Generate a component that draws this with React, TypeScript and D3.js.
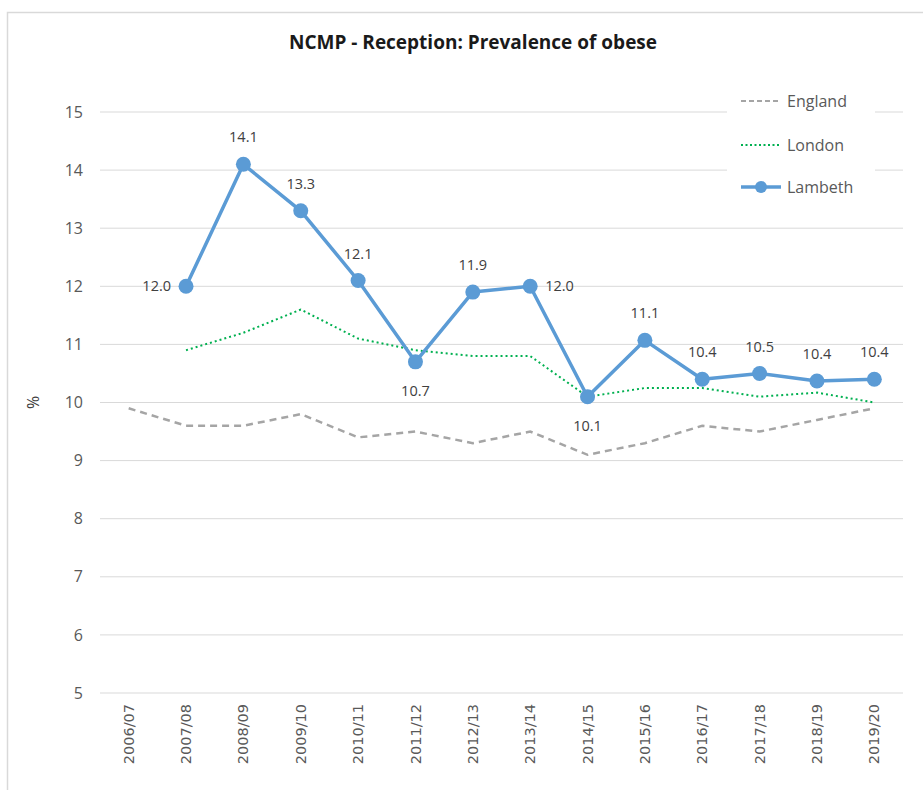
import { useEffect, useRef } from 'react';
import * as d3 from 'd3';

const years = ['2006/07', '2007/08', '2008/09', '2009/10', '2010/11', '2011/12', '2012/13', '2013/14', '2014/15', '2015/16', '2016/17', '2017/18', '2018/19', '2019/20'];
const england = [9.9, 9.6, 9.6, 9.8, 9.4, 9.5, 9.3, 9.5, 9.1, 9.3, 9.6, 9.5, 9.7, 9.9];
const london = [null, 10.9, 11.2, 11.6, 11.1, 10.9, 10.8, 10.8, 10.1, 10.25, 10.25, 10.1, 10.17, 10.0];
const lambeth = [null, 12.0, 14.1, 13.3, 12.1, 10.7, 11.9, 12.0, 10.1, 11.07, 10.4, 10.5, 10.37, 10.4];
// where each Lambeth label sits relative to its point
const labelPos = [null, 'left', 'top', 'top', 'top', 'bottom', 'top', 'right', 'bottom', 'top', 'top', 'top', 'top', 'top'];
const yTicks = [5, 6, 7, 8, 9, 10, 11, 12, 13, 14, 15];

const W = 923;
const H = 790;
const FONT = '"Open Sans", Calibri, sans-serif';

export default function App() {
  const svgRef = useRef<SVGSVGElement>(null);

  useEffect(() => {
    const svg = d3.select(svgRef.current);
    svg.selectAll('*').remove();

    const x = d3.scaleBand().domain(years).range([100, 903]);
    const cx = (d: string) => (x(d) as number) + x.bandwidth() / 2;
    const y = d3.scaleLinear().domain([5, 15]).range([693, 112]);

    svg.append('rect').attr('width', W).attr('height', H).attr('fill', 'white');
    // chart frame (cropped at right and bottom)
    svg.append('rect')
      .attr('x', 7.5).attr('y', 12.5)
      .attr('width', W + 20).attr('height', H + 20)
      .attr('fill', 'none').attr('stroke', '#d9d9d9').attr('stroke-width', 1.5);

    svg.append('text')
      .attr('x', 473).attr('y', 49)
      .attr('text-anchor', 'middle')
      .style('font-family', FONT).style('font-size', '19px').style('font-weight', 'bold')
      .style('fill', '#1a1a1a')
      .text('NCMP - Reception: Prevalence of obese');

    // gridlines
    svg.append('g').selectAll('line').data(yTicks).enter().append('line')
      .attr('x1', 100).attr('x2', 903)
      .attr('y1', d => y(d)).attr('y2', d => y(d))
      .attr('stroke', '#d9d9d9').attr('stroke-width', 1);

    // y tick labels
    svg.append('g').selectAll('text').data(yTicks).enter().append('text')
      .attr('x', 83).attr('y', d => y(d)).attr('dy', '0.35em')
      .attr('text-anchor', 'end')
      .style('font-family', FONT).style('font-size', '16px').style('fill', '#595959')
      .text(d => d);

    svg.append('text')
      .attr('transform', `translate(33, ${y(10)}) rotate(-90)`)
      .attr('text-anchor', 'middle').attr('dy', '0.35em')
      .style('font-family', FONT).style('font-size', '16px').style('fill', '#404040')
      .text('%');

    // x tick labels
    svg.append('g').selectAll('text').data(years).enter().append('text')
      .attr('transform', d => `translate(${cx(d)}, 704) rotate(-90)`)
      .attr('text-anchor', 'end').attr('dy', '0.35em')
      .style('font-family', '"DejaVu Sans", Verdana, sans-serif').style('font-size', '14.5px')
      .style('fill', '#595959')
      .text(d => d);

    const line = d3.line<number | null>()
      .defined(d => d != null)
      .x((d, i) => cx(years[i]))
      .y(d => y(d as number));

    svg.append('path').datum(england)
      .attr('d', line as any)
      .attr('fill', 'none').attr('stroke', '#a5a5a5').attr('stroke-width', 2.5)
      .attr('stroke-dasharray', '7,5');

    svg.append('path').datum(london)
      .attr('d', line as any)
      .attr('fill', 'none').attr('stroke', '#00b050').attr('stroke-width', 2)
      .attr('stroke-dasharray', '2,3');

    svg.append('path').datum(lambeth)
      .attr('d', line as any)
      .attr('fill', 'none').attr('stroke', '#5b9bd5').attr('stroke-width', 3.5)
      .attr('stroke-linejoin', 'round');

    const pts = lambeth.map((v, i) => ({ v, i })).filter(d => d.v != null) as { v: number; i: number }[];

    svg.append('g').selectAll('circle').data(pts).enter().append('circle')
      .attr('cx', d => cx(years[d.i])).attr('cy', d => y(d.v))
      .attr('r', 7.5).attr('fill', '#5b9bd5');

    svg.append('g').selectAll('text').data(pts).enter().append('text')
      .attr('x', d => {
        const p = labelPos[d.i];
        if (p === 'left') return cx(years[d.i]) - 15;
        if (p === 'right') return cx(years[d.i]) + 15;
        return cx(years[d.i]);
      })
      .attr('y', d => {
        const p = labelPos[d.i];
        if (p === 'top') return y(d.v) - 27;
        if (p === 'bottom') return y(d.v) + 29;
        return y(d.v);
      })
      .attr('dy', '0.35em')
      .attr('text-anchor', d => labelPos[d.i] === 'left' ? 'end' : labelPos[d.i] === 'right' ? 'start' : 'middle')
      .style('font-family', FONT).style('font-size', '14.5px').style('fill', '#404040')
      .text(d => d.v.toFixed(1));

    // legend
    const legend = svg.append('g');
    legend.append('rect')
      .attr('x', 727).attr('y', 86).attr('width', 148).attr('height', 116)
      .attr('fill', 'white');
    const items = [
      { label: 'England', color: '#a5a5a5', dash: '5,3', width: 2, marker: false, ly: 101 },
      { label: 'London', color: '#00b050', dash: '2,2.5', width: 2, marker: false, ly: 145 },
      { label: 'Lambeth', color: '#5b9bd5', dash: null, width: 3.5, marker: true, ly: 187 },
    ];
    const li = legend.selectAll('g.item').data(items).enter().append('g')
      .attr('class', 'item')
      .attr('transform', d => `translate(741, ${d.ly})`);
    li.append('line')
      .attr('x1', 0).attr('x2', 40).attr('y1', 0).attr('y2', 0)
      .attr('stroke', d => d.color).attr('stroke-width', d => d.width)
      .attr('stroke-dasharray', d => d.dash);
    li.filter(d => d.marker).append('circle')
      .attr('cx', 20).attr('cy', 0).attr('r', 6).attr('fill', d => d.color);
    li.append('text')
      .attr('x', 46).attr('dy', '0.35em')
      .style('font-family', FONT).style('font-size', '16px').style('fill', '#595959')
      .text(d => d.label);
  }, []);

  return (
    <svg ref={svgRef} width={W} height={H} style={{ position: 'absolute', left: 0, top: 0 }} />
  );
}
